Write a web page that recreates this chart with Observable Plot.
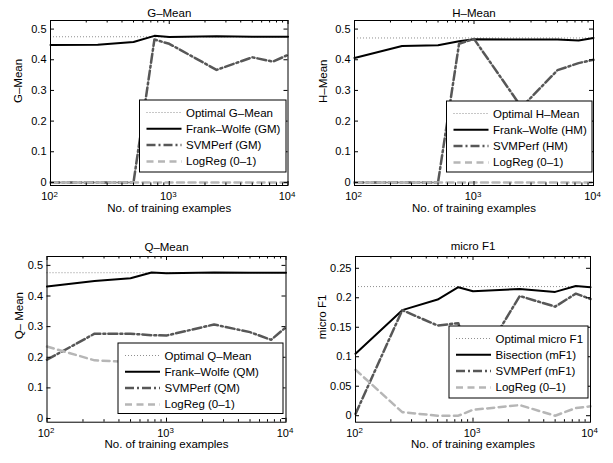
<!DOCTYPE html>
<html>
<head>
<meta charset="utf-8">
<script src="https://cdn.jsdelivr.net/npm/d3@7"></script>
<script src="https://cdn.jsdelivr.net/npm/@observablehq/plot@0.6"></script>
<style>
  body { margin: 0; background: #fff; }
  #root { position: relative; width: 613px; height: 463px; background: #fff; overflow: hidden;
          font-family: "Liberation Sans", Arial, Helvetica, sans-serif; }
  #root svg { position: absolute; }
</style>
</head>
<body>
<div id="root"></div>
<script>
// ---------------- data ----------------
const sizes = [100, 250, 500, 750, 1000, 2500, 5000, 7500, 10000];
const xMajorTicks = [100, 1000, 10000];
const xMinorTicks = [200, 300, 400, 500, 600, 700, 800, 900, 2000, 3000, 4000, 5000, 6000, 7000, 8000, 9000];
const meanTicks = [0, 0.1, 0.2, 0.3, 0.4, 0.5];
const f1Ticks = [0, 0.05, 0.1, 0.15, 0.2, 0.25];

const titles = ["G–Mean", "H–Mean", "Q–Mean", "micro F1"];
const yLabels = ["G–Mean", "H–Mean", "Q– Mean", "micro F1"];
const xLabel = "No. of training examples";

const gmOptimal = 0.475;
const gmFrankWolfe = [0.448, 0.449, 0.458, 0.478, 0.474, 0.477, 0.475, 0.475, 0.475];
const gmSVMPerf = [0.0, 0.0, 0.0, 0.466, 0.452, 0.367, 0.408, 0.394, 0.416];
const gmLogReg = [0.0, 0.0, 0.0, 0.0, 0.0, 0.0, 0.0, 0.0, 0.0];
const gmLegend = ["Optimal G–Mean", "Frank–Wolfe (GM)", "SVMPerf (GM)", "LogReg (0–1)"];

const hmOptimal = 0.471;
const hmFrankWolfe = [0.406, 0.445, 0.447, 0.460, 0.467, 0.466, 0.466, 0.463, 0.471];
const hmSVMPerf = [0.0, 0.0, 0.0, 0.452, 0.468, 0.245, 0.366, 0.389, 0.400];
const hmLogReg = [0.0, 0.0, 0.0, 0.0, 0.0, 0.0, 0.0, 0.0, 0.0];
const hmLegend = ["Optimal H–Mean", "Frank–Wolfe (HM)", "SVMPerf (HM)", "LogReg (0–1)"];

const qmOptimal = 0.476;
const qmFrankWolfe = [0.431, 0.449, 0.458, 0.477, 0.474, 0.477, 0.476, 0.476, 0.476];
const qmSVMPerf = [0.192, 0.277, 0.277, 0.272, 0.271, 0.307, 0.282, 0.257, 0.298];
const qmLogReg = [0.235, 0.190, 0.185, 0.185, 0.190, 0.190, 0.190, 0.195, 0.195];
const qmLegend = ["Optimal Q–Mean", "Frank–Wolfe (QM)", "SVMPerf (QM)", "LogReg (0–1)"];

const mfOptimal = 0.219;
const mfBisection = [0.105, 0.179, 0.197, 0.218, 0.211, 0.215, 0.210, 0.220, 0.218];
const mfSVMPerf = [0.003, 0.179, 0.153, 0.157, 0.072, 0.203, 0.185, 0.207, 0.198];
const mfLogReg = [0.078, 0.006, 0.0, 0.0, 0.010, 0.018, 0.0, 0.013, 0.016];
const mfLegend = ["Optimal micro F1", "Bisection (mF1)", "SVMPerf (mF1)", "LogReg (0–1)"];

// ---------------- styles ----------------
const FONT = "Liberation Sans, Arial, Helvetica, sans-serif";
const lineStyles = [
  {stroke: "#8f8f8f", strokeWidth: 1, strokeDasharray: "1,2"},
  {stroke: "#000000", strokeWidth: 2},
  {stroke: "#575757", strokeWidth: 2.5, strokeDasharray: "9,3,2,3"},
  {stroke: "#b6b6b6", strokeWidth: 2.5, strokeDasharray: "7,4.5"}
];

const root = document.getElementById("root");
const svgNS = "http://www.w3.org/2000/svg";

function drawPanel(cfg) {
  const {left, top, width, height, mL, mR, mT, mB, yDomain, yTicks,
         title, yLabel, yLabelDx, titleDy, optimal, method, svm, lr} = cfg;
  const pw = width - mL - mR, ph = height - mT - mB;
  const rows = vals => sizes.map((n, i) => ({n, v: vals[i]}));
  const tk = {stroke: "#000", strokeWidth: 1};
  const plot = Plot.plot({
    width, height,
    marginLeft: mL, marginRight: mR, marginTop: mT, marginBottom: mB,
    style: {fontFamily: FONT, fontSize: "11px", background: "transparent", overflow: "visible", color: "#000"},
    x: {type: "log", domain: [100, 10000], ticks: xMajorTicks, tickSize: 0, tickPadding: 7,
        tickFormat: d => "10^" + Math.round(Math.log10(d)), label: null},
    y: {domain: yDomain, ticks: yTicks, tickSize: 0, tickPadding: 4,
        tickFormat: d => String(d), label: null},
    marks: [
      Plot.ruleY([optimal], lineStyles[0]),
      Plot.line(rows(method), {x: "n", y: "v", ...lineStyles[1]}),
      Plot.line(rows(svm), {x: "n", y: "v", ...lineStyles[2]}),
      Plot.line(rows(lr), {x: "n", y: "v", ...lineStyles[3]}),
      Plot.ruleX(xMajorTicks, {x: d => d, insetTop: ph - 4, ...tk}),
      Plot.ruleX(xMajorTicks, {x: d => d, insetBottom: ph - 4, ...tk}),
      Plot.ruleX(xMinorTicks, {x: d => d, insetTop: ph - 2.5, ...tk}),
      Plot.ruleX(xMinorTicks, {x: d => d, insetBottom: ph - 2.5, ...tk}),
      Plot.ruleY(yTicks, {y: d => d, insetRight: pw - 4, ...tk}),
      Plot.ruleY(yTicks, {y: d => d, insetLeft: pw - 4, ...tk}),
      Plot.frame({stroke: "#000", strokeWidth: 1}),
      Plot.text([title], {frameAnchor: "top", dy: titleDy, text: d => d, fontSize: 11.5, fill: "#000"}),
      Plot.text([xLabel], {frameAnchor: "bottom", dy: 26, text: d => d, fontSize: 11.5, fill: "#000"}),
      Plot.text([yLabel], {frameAnchor: "left", dx: yLabelDx, rotate: -90, text: d => d, fontSize: 11.5, fill: "#000"})
    ]
  });
  // superscript exponents on the log axis labels
  plot.querySelectorAll("text").forEach(t => {
    const m = /^10\^(\d)$/.exec(t.textContent);
    if (m) {
      t.textContent = "10";
      const ts = document.createElementNS(svgNS, "tspan");
      ts.setAttribute("dy", "-0.45em");
      ts.setAttribute("font-size", "0.72em");
      ts.textContent = m[1];
      t.appendChild(ts);
      t.setAttribute("dx", "-1");
    }
  });
  plot.style.left = left + "px";
  plot.style.top = top + "px";
  root.appendChild(plot);
}

drawPanel({left: 0, top: 0, width: 306, height: 230, mL: 50, mR: 18.5, mT: 20, mB: 45,
  yDomain: [-0.01, 0.528], yTicks: meanTicks, title: titles[0], yLabel: yLabels[0], yLabelDx: -32, titleDy: -12,
  optimal: gmOptimal, method: gmFrankWolfe, svm: gmSVMPerf, lr: gmLogReg});
drawPanel({left: 306, top: 0, width: 307, height: 230, mL: 48, mR: 20, mT: 20, mB: 45,
  yDomain: [-0.01, 0.528], yTicks: meanTicks, title: titles[1], yLabel: yLabels[1], yLabelDx: -31, titleDy: -12,
  optimal: hmOptimal, method: hmFrankWolfe, svm: hmSVMPerf, lr: hmLogReg});
drawPanel({left: 0, top: 230, width: 306, height: 233, mL: 46.5, mR: 20.5, mT: 26, mB: 41.3,
  yDomain: [-0.012, 0.529], yTicks: meanTicks, title: titles[2], yLabel: yLabels[2], yLabelDx: -27.5, titleDy: -14,
  optimal: qmOptimal, method: qmFrankWolfe, svm: qmSVMPerf, lr: qmLogReg});
drawPanel({left: 306, top: 230, width: 307, height: 233, mL: 49, mR: 23, mT: 26, mB: 41.3,
  yDomain: [-0.011, 0.27], yTicks: f1Ticks, title: titles[3], yLabel: yLabels[3], yLabelDx: -33, titleDy: -15,
  optimal: mfOptimal, method: mfBisection, svm: mfSVMPerf, lr: mfLogReg});

// ---------------- legends (overlay) ----------------
const legendBoxes = [
  {x: 139.5, y: 100, w: 146.5, h: 72, labels: gmLegend},
  {x: 446.5, y: 101, w: 145.5, h: 71, labels: hmLegend},
  {x: 118, y: 343, w: 165, h: 70.5, labels: qmLegend},
  {x: 449, y: 326, w: 139, h: 72, labels: mfLegend}
];
const overlay = d3.select(root).append("svg")
  .attr("width", 613).attr("height", 463)
  .style("left", "0px").style("top", "0px").style("pointer-events", "none");
for (const b of legendBoxes) {
  const g = overlay.append("g").attr("transform", `translate(${b.x},${b.y})`);
  g.append("rect").attr("width", b.w).attr("height", b.h)
    .attr("fill", "#fff").attr("stroke", "#000").attr("stroke-width", 1);
  b.labels.forEach((lab, i) => {
    const cy = 12.5 + 16.3 * i;
    const s = lineStyles[i];
    g.append("line").attr("x1", 7).attr("x2", 42).attr("y1", cy).attr("y2", cy)
      .attr("stroke", s.stroke).attr("stroke-width", s.strokeWidth)
      .attr("stroke-dasharray", s.strokeDasharray || null);
    g.append("text").attr("x", 46.5).attr("y", cy).attr("dy", "0.35em")
      .attr("font-family", FONT).attr("font-size", 11.5).attr("fill", "#000")
      .text(lab);
  });
}
</script>
</body>
</html>
